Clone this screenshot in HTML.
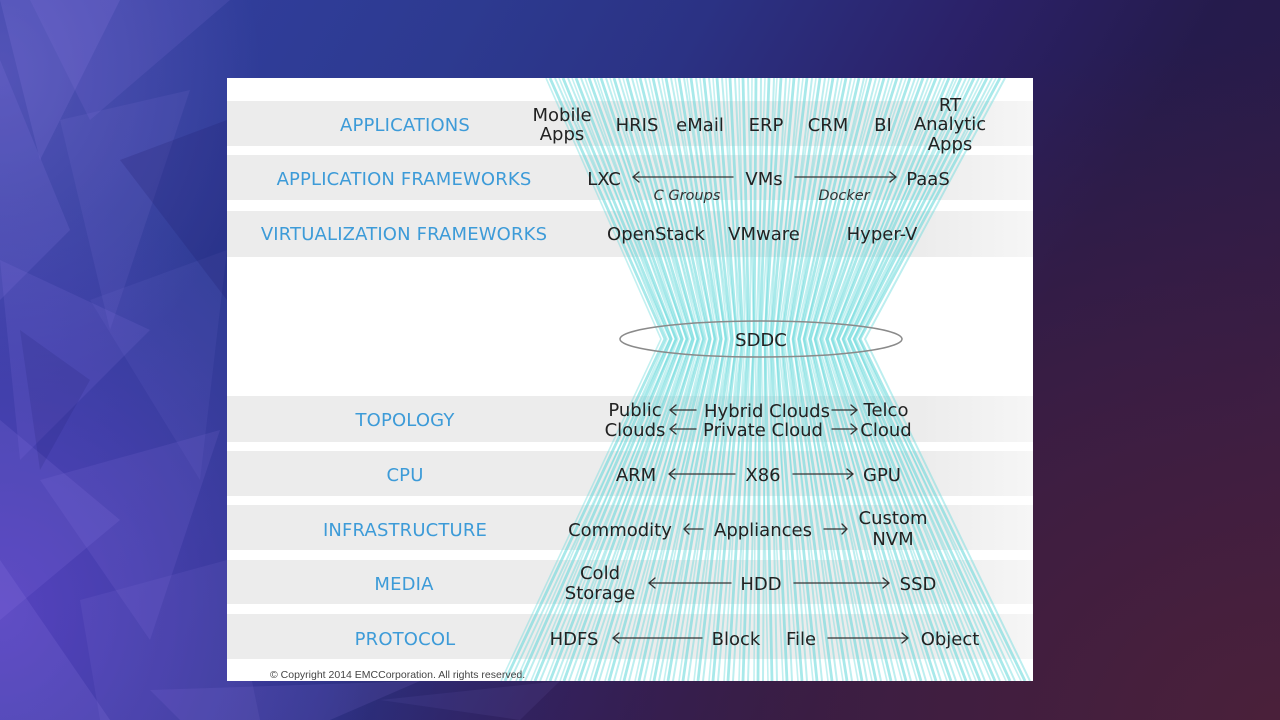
<!DOCTYPE html>
<html>
<head>
<meta charset="utf-8">
<style>
  html,body{margin:0;padding:0;}
  body{width:1280px;height:720px;overflow:hidden;position:relative;
    background:
      radial-gradient(ellipse 380px 420px at 0% 85%, rgba(95,68,200,0.8) 0%, rgba(95,68,200,0) 100%),
      radial-gradient(ellipse 260px 320px at 0% 10%, rgba(110,100,200,0.55) 0%, rgba(110,100,200,0) 100%),
      radial-gradient(ellipse 950px 680px at 100% 100%, rgba(74,32,58,1) 0%, rgba(66,30,64,0.8) 45%, rgba(60,30,70,0) 100%),
      linear-gradient(120deg, #3340a4 0%, #2d3a90 28%, #2b3284 42%, #2b2168 58%, #251b4c 72%, #2a1b48 86%, #3a1e44 100%);
    font-family:"DejaVu Sans","Liberation Sans",sans-serif;}
  #bg{position:absolute;left:0;top:0;}
  #panel{position:absolute;left:227px;top:78px;width:806px;height:603px;background:#fff;overflow:hidden;}
  .band{position:absolute;left:0;width:806px;background:linear-gradient(90deg,#ececec 0%,#ececec 86%,#f6f6f6 100%);}
  #fan{position:absolute;left:0;top:0;}
  .t{position:absolute;transform:translateX(-50%);white-space:nowrap;font-size:18px;line-height:20px;text-align:center;color:#222;margin-top:1.5px;}
  .b{color:#3d9bd8;letter-spacing:0.15px;}
  .i{font-style:italic;font-size:14.5px;line-height:18px;color:#333;}
  #copy{position:absolute;left:270px;top:668px;font-family:"Liberation Sans",sans-serif;font-size:10.5px;line-height:14px;color:#444;white-space:nowrap;}
</style>
</head>
<body>
<svg id="bg" width="1280" height="720" viewBox="0 0 1280 720">
  <g fill="#9a86ee">
    <polygon points="0,0 120,0 40,160" opacity="0.16"/>
    <polygon points="30,0 230,0 90,120" opacity="0.12"/>
    <polygon points="0,60 70,230 0,300" opacity="0.14"/>
    <polygon points="60,120 190,90 110,330" opacity="0.1"/>
    <polygon points="0,260 150,330 20,460" opacity="0.13"/>
    <polygon points="90,300 227,250 200,480" opacity="0.08"/>
    <polygon points="0,420 120,520 0,620" opacity="0.14"/>
    <polygon points="40,480 220,430 150,640" opacity="0.12"/>
    <polygon points="0,560 110,720 0,720" opacity="0.16"/>
    <polygon points="80,600 227,560 260,720 100,720" opacity="0.1"/>
    <polygon points="150,690 420,681 330,720 180,720" opacity="0.12"/>
    <polygon points="380,700 560,681 520,720" opacity="0.08"/>
  </g>
  <g fill="#1e1a6a">
    <polygon points="120,160 227,120 227,300" opacity="0.2"/>
    <polygon points="20,330 90,380 40,470" opacity="0.15"/>
  </g>
</svg>

<div id="panel">
  <div class="band" style="top:23px;height:45px"></div>
  <div class="band" style="top:77px;height:45px"></div>
  <div class="band" style="top:133px;height:46px"></div>
  <div class="band" style="top:318px;height:46px"></div>
  <div class="band" style="top:373px;height:45px"></div>
  <div class="band" style="top:427px;height:45px"></div>
  <div class="band" style="top:482px;height:44px"></div>
  <div class="band" style="top:536px;height:45px"></div>

  <svg id="fan" width="806" height="603" viewBox="227 78 806 603">
    <defs>
      <g id="fanlines">
        <polyline points="550,78 665,339 505,681"/>
        <polyline points="563,78 671,339 520,681"/>
        <polyline points="576,78 676,339 535,681"/>
        <polyline points="589,78 682,339 550,681"/>
        <polyline points="601,78 687,339 564,681"/>
        <polyline points="614,78 693,339 579,681"/>
        <polyline points="627,78 698,339 594,681"/>
        <polyline points="640,78 704,339 609,681"/>
        <polyline points="653,78 710,339 624,681"/>
        <polyline points="666,78 715,339 639,681"/>
        <polyline points="679,78 721,339 654,681"/>
        <polyline points="691,78 726,339 668,681"/>
        <polyline points="704,78 732,339 683,681"/>
        <polyline points="717,78 737,339 698,681"/>
        <polyline points="730,78 743,339 713,681"/>
        <polyline points="743,78 749,339 728,681"/>
        <polyline points="756,78 754,339 743,681"/>
        <polyline points="769,78 760,339 758,681"/>
        <polyline points="781,78 765,339 772,681"/>
        <polyline points="794,78 771,339 787,681"/>
        <polyline points="807,78 776,339 802,681"/>
        <polyline points="820,78 782,339 817,681"/>
        <polyline points="833,78 788,339 832,681"/>
        <polyline points="846,78 793,339 847,681"/>
        <polyline points="859,78 799,339 862,681"/>
        <polyline points="871,78 804,339 876,681"/>
        <polyline points="884,78 810,339 891,681"/>
        <polyline points="897,78 815,339 906,681"/>
        <polyline points="910,78 821,339 921,681"/>
        <polyline points="923,78 827,339 936,681"/>
        <polyline points="936,78 832,339 951,681"/>
        <polyline points="949,78 838,339 966,681"/>
        <polyline points="961,78 843,339 980,681"/>
        <polyline points="974,78 849,339 995,681"/>
        <polyline points="987,78 854,339 1010,681"/>
        <polyline points="1000,78 860,339 1025,681"/>
      </g>
    </defs>
    <g fill="none" stroke="#62d8da">
      <use href="#fanlines" stroke-width="2.8" opacity="0.55"/>
      <use href="#fanlines" transform="translate(5,0)" stroke-width="2" opacity="0.42"/>
      <use href="#fanlines" transform="translate(-4,0)" stroke-width="1.6" opacity="0.38"/>
    </g>
    <ellipse cx="761" cy="339" rx="141" ry="18" fill="none" stroke="#8a8a8a" stroke-width="1.5"/>
    <g fill="none" stroke="#333" stroke-width="1.3" stroke-linecap="round" stroke-linejoin="round">
      <line x1="633" y1="177" x2="733" y2="177"/><polyline points="639,172 633,177 639,182"/>
      <line x1="795" y1="177" x2="896" y2="177"/><polyline points="890,172 896,177 890,182"/>
      <line x1="670" y1="410" x2="696" y2="410"/><polyline points="676,405 670,410 676,415"/>
      <line x1="670" y1="429" x2="696" y2="429"/><polyline points="676,424 670,429 676,434"/>
      <line x1="832" y1="410" x2="857" y2="410"/><polyline points="851,405 857,410 851,415"/>
      <line x1="832" y1="429" x2="857" y2="429"/><polyline points="851,424 857,429 851,434"/>
      <line x1="669" y1="474" x2="735" y2="474"/><polyline points="675,469 669,474 675,479"/>
      <line x1="793" y1="474" x2="853" y2="474"/><polyline points="847,469 853,474 847,479"/>
      <line x1="684" y1="529" x2="703" y2="529"/><polyline points="689,524 684,529 689,534"/>
      <line x1="824" y1="529" x2="847" y2="529"/><polyline points="842,524 847,529 842,534"/>
      <line x1="649" y1="583" x2="731" y2="583"/><polyline points="655,578 649,583 655,588"/>
      <line x1="794" y1="583" x2="889" y2="583"/><polyline points="883,578 889,583 883,588"/>
      <line x1="613" y1="638" x2="702" y2="638"/><polyline points="619,633 613,638 619,643"/>
      <line x1="828" y1="638" x2="908" y2="638"/><polyline points="902,633 908,638 902,643"/>
    </g>
  </svg>
</div>

<div class="t b" style="left:405px;top:114px">APPLICATIONS</div>
<div class="t b" style="left:404px;top:168px">APPLICATION FRAMEWORKS</div>
<div class="t b" style="left:404px;top:223px">VIRTUALIZATION FRAMEWORKS</div>
<div class="t b" style="left:405px;top:409px">TOPOLOGY</div>
<div class="t b" style="left:405px;top:464px">CPU</div>
<div class="t b" style="left:405px;top:519px">INFRASTRUCTURE</div>
<div class="t b" style="left:404px;top:573px">MEDIA</div>
<div class="t b" style="left:405px;top:628px">PROTOCOL</div>

<div class="t" style="left:562px;top:104px;line-height:19.5px">Mobile<br>Apps</div>
<div class="t" style="left:637px;top:114px">HRIS</div>
<div class="t" style="left:700px;top:114px">eMail</div>
<div class="t" style="left:766px;top:114px">ERP</div>
<div class="t" style="left:828px;top:114px">CRM</div>
<div class="t" style="left:883px;top:114px">BI</div>
<div class="t" style="left:950px;top:94px;line-height:19.5px">RT<br>Analytic<br>Apps</div>

<div class="t" style="left:604px;top:168px">LXC</div>
<div class="t" style="left:764px;top:168px">VMs</div>
<div class="t" style="left:928px;top:168px">PaaS</div>
<div class="t i" style="left:687px;top:185px">C Groups</div>
<div class="t i" style="left:844px;top:185px">Docker</div>

<div class="t" style="left:656px;top:223px">OpenStack</div>
<div class="t" style="left:764px;top:223px">VMware</div>
<div class="t" style="left:882px;top:223px">Hyper-V</div>

<div class="t" style="left:761px;top:329px">SDDC</div>

<div class="t" style="left:635px;top:399px">Public</div>
<div class="t" style="left:635px;top:419px">Clouds</div>
<div class="t" style="left:767px;top:400px">Hybrid Clouds</div>
<div class="t" style="left:763px;top:419px">Private Cloud</div>
<div class="t" style="left:886px;top:399px">Telco</div>
<div class="t" style="left:886px;top:419px">Cloud</div>

<div class="t" style="left:636px;top:464px">ARM</div>
<div class="t" style="left:763px;top:464px">X86</div>
<div class="t" style="left:882px;top:464px">GPU</div>

<div class="t" style="left:620px;top:519px">Commodity</div>
<div class="t" style="left:763px;top:519px">Appliances</div>
<div class="t" style="left:893px;top:506px;line-height:21px">Custom<br>NVM</div>

<div class="t" style="left:600px;top:562px">Cold<br>Storage</div>
<div class="t" style="left:761px;top:573px">HDD</div>
<div class="t" style="left:918px;top:573px">SSD</div>

<div class="t" style="left:574px;top:628px">HDFS</div>
<div class="t" style="left:736px;top:628px">Block</div>
<div class="t" style="left:801px;top:628px">File</div>
<div class="t" style="left:950px;top:628px">Object</div>

<div id="copy">© Copyright 2014 EMCCorporation. All rights reserved.</div>
</body>
</html>
